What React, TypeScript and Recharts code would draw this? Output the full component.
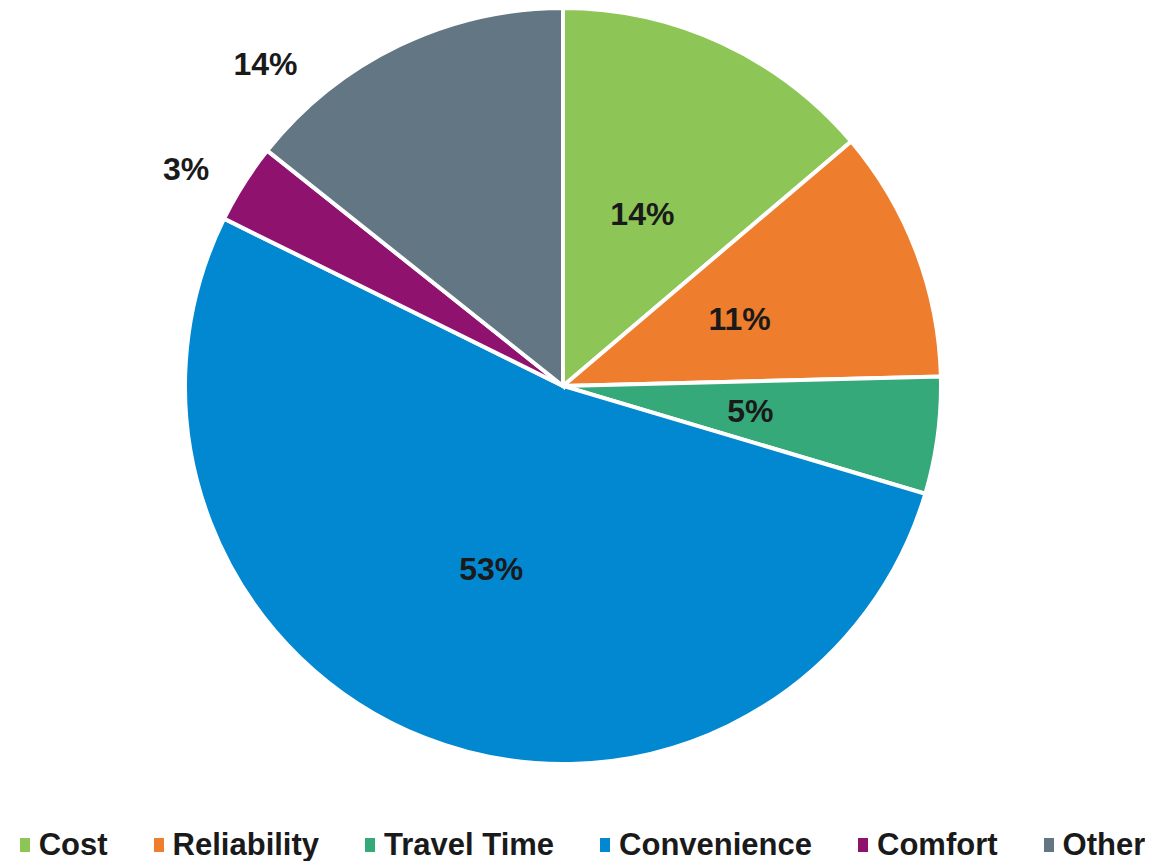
import { Cell, Legend, Pie, PieChart } from "recharts";

const categories = ["Cost", "Reliability", "Travel Time", "Convenience", "Comfort", "Other"];
const shares = [13.8, 10.8, 5.0, 52.7, 3.4, 14.3];
const colors = ["#8DC656", "#EE7D2E", "#36A97B", "#0288D1", "#8E126E", "#637683"];

// where each label sits: fraction of the radius, plus an angle nudge (deg)
const labelPlacement = [
  { r: 0.5, shift: 0 },
  { r: 0.5, shift: 0 },
  { r: 0.5, shift: 0 },
  { r: 0.52, shift: 0 },
  { r: 1.15, shift: 2.5 },
  { r: 1.16, shift: 17 },
];

const data = categories.map((name, i) => ({ name, value: shares[i], color: colors[i] }));

const FONT = "'Liberation Sans', Arial, sans-serif";
const RAD = Math.PI / 180;

function renderLabel(props: any) {
  const { cx, cy, midAngle, outerRadius, index, value } = props;
  const place = labelPlacement[index];
  const angle = (midAngle + place.shift) * RAD;
  const r = outerRadius * place.r;
  const x = cx + r * Math.cos(-angle);
  const y = cy + r * Math.sin(-angle);
  return (
    <text
      x={x}
      y={y}
      textAnchor="middle"
      dominantBaseline="central"
      fill="#1a1a1a"
      fontFamily={FONT}
      fontWeight={700}
      fontSize={32}
    >
      {`${Math.round(value)}%`}
    </text>
  );
}

function ChartLegend() {
  return (
    <div
      style={{
        display: "flex",
        justifyContent: "center",
        gap: 46,
        paddingLeft: 12,
        fontFamily: FONT,
        fontWeight: 700,
        fontSize: 31,
        color: "#1a1a1a",
        whiteSpace: "nowrap",
      }}
    >
      {data.map((d) => (
        <div key={d.name} style={{ display: "flex", alignItems: "center", gap: 9 }}>
          <span style={{ width: 10, height: 14, background: d.color, display: "inline-block" }} />
          <span>{d.name}</span>
        </div>
      ))}
    </div>
  );
}

export default function App() {
  return (
    <div style={{ marginLeft: -8, marginTop: -8, width: 1153, height: 861, background: "#fff" }}>
      <PieChart width={1153} height={861} margin={{ top: 0, right: 0, bottom: 0, left: 0 }}>
        <Pie
          data={data}
          dataKey="value"
          nameKey="name"
          cx={563}
          cy={386}
          outerRadius={378}
          startAngle={90}
          endAngle={-270}
          stroke="#fff"
          strokeWidth={4}
          label={renderLabel}
          labelLine={false}
          isAnimationActive={false}
        >
          {data.map((entry) => (
            <Cell key={entry.name} fill={entry.color} />
          ))}
        </Pie>
        <Legend
          verticalAlign="bottom"
          content={() => <ChartLegend />}
          wrapperStyle={{ bottom: -2, left: 0, width: 1153 }}
        />
      </PieChart>
    </div>
  );
}
